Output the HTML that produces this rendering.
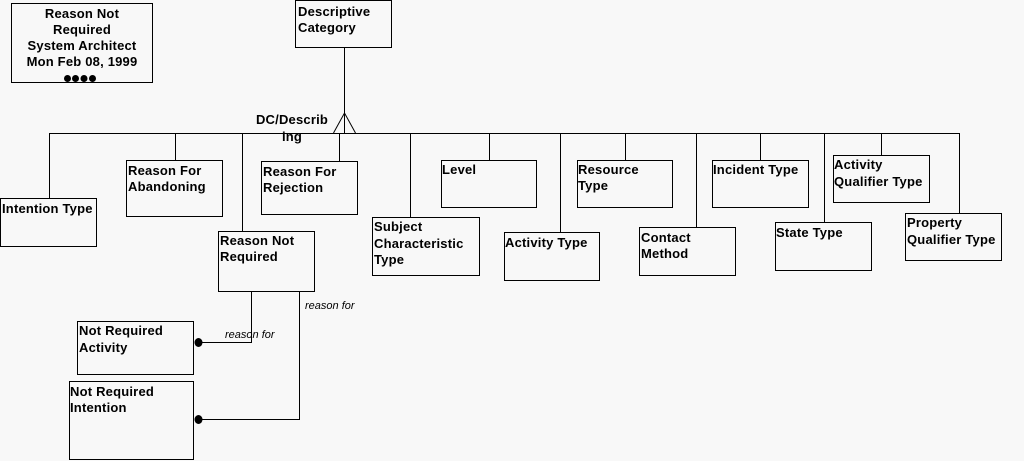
<!DOCTYPE html>
<html><head><meta charset="utf-8"><style>
html,body{margin:0;padding:0;background:#f8f8f8;}
svg{display:block;}
text{font-family:"Liberation Sans",Arial,sans-serif;font-size:13px;font-weight:bold;fill:#000;letter-spacing:0.2px;}
.i{font-weight:normal;font-style:italic;font-size:11px;letter-spacing:0;}
</style></head><body>
<svg width="1024" height="461" viewBox="0 0 1024 461" xmlns="http://www.w3.org/2000/svg">
<rect width="1024" height="461" fill="#f8f8f8"/>
<g fill="none" stroke="#000" stroke-width="1">
<rect x="11.5" y="3.5" width="141" height="79"/>
<rect x="295.5" y="0.5" width="96" height="47"/>
<line x1="344.5" y1="47" x2="344.5" y2="133"/>
<polyline points="333.5,133 344.5,113 355.5,133"/>
<line x1="49.5" y1="133.5" x2="959.5" y2="133.5"/>
<line x1="49.5" y1="133" x2="49.5" y2="198"/>
<line x1="175.5" y1="133" x2="175.5" y2="160"/>
<line x1="242.5" y1="133" x2="242.5" y2="231"/>
<line x1="339.5" y1="133" x2="339.5" y2="161"/>
<line x1="410.5" y1="133" x2="410.5" y2="217"/>
<line x1="489.5" y1="133" x2="489.5" y2="160"/>
<line x1="560.5" y1="133" x2="560.5" y2="232"/>
<line x1="625.5" y1="133" x2="625.5" y2="160"/>
<line x1="696.5" y1="133" x2="696.5" y2="227"/>
<line x1="760.5" y1="133" x2="760.5" y2="160"/>
<line x1="824.5" y1="133" x2="824.5" y2="222"/>
<line x1="881.5" y1="133" x2="881.5" y2="155"/>
<line x1="959.5" y1="133" x2="959.5" y2="213"/>
<rect x="0.5" y="198.5" width="96" height="48"/>
<rect x="126.5" y="160.5" width="96" height="56"/>
<rect x="218.5" y="231.5" width="96" height="60"/>
<rect x="261.5" y="161.5" width="96" height="53"/>
<rect x="372.5" y="217.5" width="107" height="58"/>
<rect x="441.5" y="160.5" width="95" height="47"/>
<rect x="504.5" y="232.5" width="95" height="48"/>
<rect x="577.5" y="160.5" width="95" height="47"/>
<rect x="639.5" y="227.5" width="96" height="48"/>
<rect x="712.5" y="160.5" width="96" height="47"/>
<rect x="775.5" y="222.5" width="96" height="48"/>
<rect x="833.5" y="155.5" width="96" height="47"/>
<rect x="905.5" y="213.5" width="96" height="47"/>
<rect x="77.5" y="321.5" width="116" height="53"/>
<rect x="69.5" y="381.5" width="124" height="78"/>
<polyline points="251.5,291 251.5,342.5 198,342.5"/>
<polyline points="299.5,291 299.5,419.5 198,419.5"/>
</g>
<ellipse cx="198.5" cy="342.5" rx="4" ry="4.5" fill="#000"/>
<ellipse cx="198.5" cy="419.5" rx="4" ry="4.5" fill="#000"/>
<g fill="#000">
<circle cx="67.5" cy="78.5" r="3.5"/>
<circle cx="75.5" cy="78.5" r="3.5"/>
<circle cx="84" cy="78.5" r="3.5"/>
<circle cx="92.5" cy="78.5" r="3.5"/>
</g>
<g text-anchor="middle">
<text x="82" y="18">Reason Not</text>
<text x="82" y="34">Required</text>
<text x="82" y="50">System Architect</text>
<text x="82" y="66">Mon Feb 08, 1999</text>
<text x="292" y="124">DC/Describ</text>
<text x="292" y="141">ing</text>
</g>
<text x="298" y="16">Descriptive</text>
<text x="298" y="32">Category</text>
<text x="2" y="213">Intention Type</text>
<text x="128" y="175">Reason For</text>
<text x="128" y="191">Abandoning</text>
<text x="220" y="245">Reason Not</text>
<text x="220" y="261">Required</text>
<text x="263" y="176">Reason For</text>
<text x="263" y="192">Rejection</text>
<text x="374" y="231">Subject</text>
<text x="374" y="248">Characteristic</text>
<text x="374" y="264">Type</text>
<text x="442" y="174">Level</text>
<text x="505" y="247">Activity Type</text>
<text x="578" y="174">Resource</text>
<text x="578" y="190">Type</text>
<text x="641" y="242">Contact</text>
<text x="641" y="258">Method</text>
<text x="713" y="174">Incident Type</text>
<text x="776" y="237">State Type</text>
<text x="834" y="169">Activity</text>
<text x="834" y="186">Qualifier Type</text>
<text x="907" y="227">Property</text>
<text x="907" y="244">Qualifier Type</text>
<text x="79" y="335">Not Required</text>
<text x="79" y="352">Activity</text>
<text x="70" y="396">Not Required</text>
<text x="70" y="412">Intention</text>
<text class="i" x="225" y="338">reason for</text>
<text class="i" x="305" y="309">reason for</text>
</svg>
</body></html>
